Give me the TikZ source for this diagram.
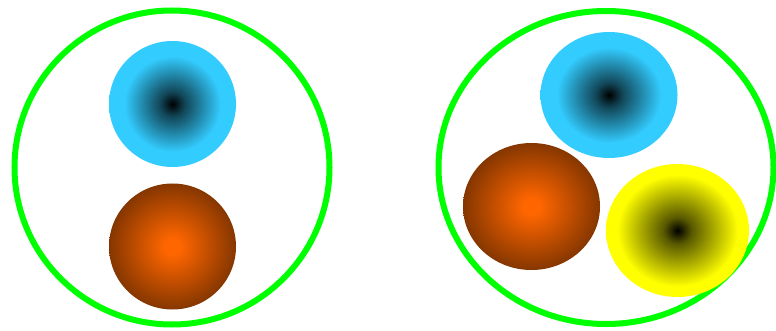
\documentclass[tikz,border=0pt]{standalone}
\usetikzlibrary{shapes.geometric}
\definecolor{cyanc}{RGB}{51,204,255}
\definecolor{orangec}{RGB}{255,102,0}
\definecolor{brownc}{RGB}{122,50,0}
\definecolor{yellowc}{RGB}{255,255,0}
\definecolor{greenc}{RGB}{0,255,0}
\colorlet{cyandark}{cyanc!35!black}
\colorlet{yellowdark}{yellowc!35!black}
\pgfdeclareradialshading{blueball}{\pgfpoint{0bp}{0bp}}{color(0bp)=(black); color(5bp)=(cyandark); color(19bp)=(cyanc); color(50bp)=(cyanc)}
\pgfdeclareradialshading{orangeball}{\pgfpoint{0bp}{0bp}}{color(0bp)=(orangec); color(3bp)=(orangec); color(27bp)=(brownc); color(50bp)=(brownc)}
\pgfdeclareradialshading{yellowball}{\pgfpoint{0bp}{0bp}}{color(0bp)=(black); color(5bp)=(yellowdark); color(21bp)=(yellowc); color(50bp)=(yellowc)}
\tikzset{
  outer/.style={ellipse, draw=greenc, line width=6pt, inner sep=0pt},
  ball/.style={ellipse, inner sep=0pt, draw=none},
}
\begin{document}
\begin{tikzpicture}[x=1pt,y=-1pt]
\useasboundingbox (0,0) rectangle (776,331);
\node[outer, minimum width=315pt, minimum height=314pt] (c1) at (172,167.5) {};
\node[outer, minimum width=335pt, minimum height=313pt] (c2) at (606,167.5) {};
\node[ball, shading=blueball, minimum width=127pt, minimum height=126pt] (b1) at (172.5,104) {};
\node[ball, shading=orangeball, minimum width=127pt, minimum height=126pt] (o1) at (172.5,246.5) {};
\node[ball, shading=blueball, minimum width=137pt, minimum height=126pt] (b2) at (609,95) {};
\node[ball, shading=orangeball, minimum width=137pt, minimum height=127pt] (o2) at (531.5,206.5) {};
\node[ball, shading=yellowball, minimum width=143pt, minimum height=133pt] (y2) at (677.5,230.5) {};
\end{tikzpicture}
\end{document}
